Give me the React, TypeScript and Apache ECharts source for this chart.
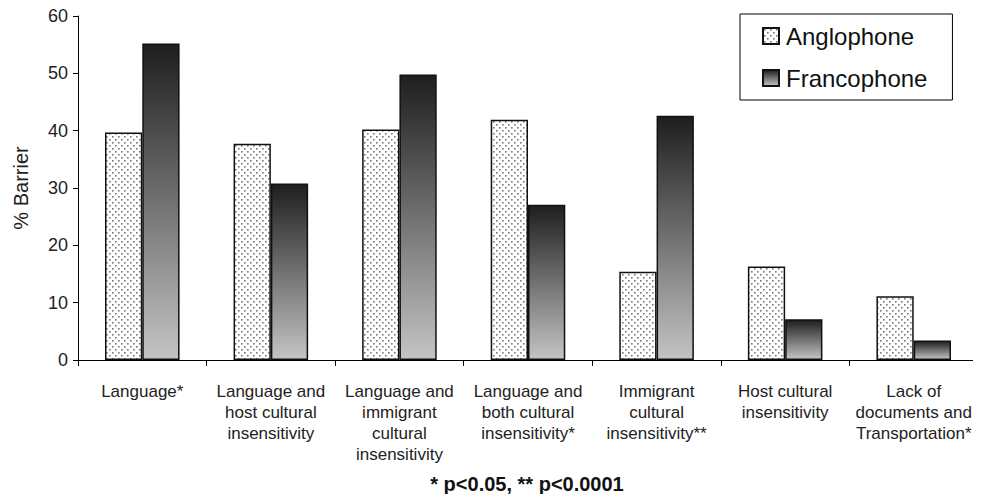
import React, { useEffect, useRef } from "react";
import * as echarts from "echarts";

const categories = [
  "Language*",
  "Language and\nhost cultural\ninsensitivity",
  "Language and\nimmigrant\ncultural\ninsensitivity",
  "Language and\nboth cultural\ninsensitivity*",
  "Immigrant\ncultural\ninsensitivity**",
  "Host cultural\ninsensitivity",
  "Lack of\ndocuments and\nTransportation*",
];
const anglophone = [39.7, 37.7, 40.2, 41.9, 15.4, 16.3, 11.1];
const francophone = [55.2, 30.8, 49.8, 27.1, 42.6, 7.1, 3.4];
const yTicks = [0, 10, 20, 30, 40, 50, 60];
const footnote = "* p<0.05, ** p<0.0001";

function makeDotPattern(): HTMLCanvasElement {
  const c = document.createElement("canvas");
  c.width = 6;
  c.height = 6;
  const ctx = c.getContext("2d")!;
  ctx.fillStyle = "#ffffff";
  ctx.fillRect(0, 0, 6, 6);
  ctx.fillStyle = "#7a7a7a";
  ctx.fillRect(1, 1, 1.6, 1.6);
  ctx.fillRect(4, 4, 1.6, 1.6);
  return c;
}

export default function App() {
  const ref = useRef<HTMLDivElement>(null);
  useEffect(() => {
    if (!ref.current) return;
    const chart = echarts.init(ref.current, undefined, { renderer: "svg" });
    const font = "'Liberation Sans', Arial, sans-serif";
    const dots = { image: makeDotPattern(), repeat: "repeat" };
    const grad = new echarts.graphic.LinearGradient(0, 0, 0, 1, [
      { offset: 0, color: "#1e1e1e" },
      { offset: 1, color: "#c4c4c4" },
    ]);
    chart.setOption({
      animation: false,
      backgroundColor: "#ffffff",
      textStyle: { fontFamily: font },
      grid: { left: 78, right: 3, top: 16, bottom: 142 },
      legend: {
        left: 740,
        top: 14,
        orient: "vertical",
        icon: "rect",
        padding: [10, 25, 10, 22],
        itemGap: 18,
        itemWidth: 16,
        itemHeight: 16,
        borderColor: "#000",
        borderWidth: 1,
        textStyle: { fontSize: 24, color: "#111", fontFamily: font, padding: [0, 0, 0, 2] },
        data: ["Anglophone", "Francophone"],
      },
      xAxis: {
        type: "category",
        data: categories,
        axisLine: { lineStyle: { color: "#000", width: 1 } },
        axisTick: { show: true, length: 6, lineStyle: { color: "#000" } },
        axisLabel: {
          interval: 0,
          fontSize: 17,
          lineHeight: 21,
          color: "#222",
          margin: 21,
          fontFamily: font,
        },
      },
      yAxis: {
        type: "value",
        min: yTicks[0],
        max: yTicks[yTicks.length - 1],
        interval: 10,
        name: "% Barrier",
        nameLocation: "middle",
        nameGap: 47,
        nameTextStyle: { fontSize: 20, color: "#222", fontFamily: font },
        axisLine: { show: true, lineStyle: { color: "#000", width: 1 } },
        axisTick: { show: true, length: 5, lineStyle: { color: "#000" } },
        splitLine: { show: false },
        axisLabel: { fontSize: 18, color: "#222", margin: 10, fontFamily: font },
      },
      series: [
        {
          name: "Anglophone",
          type: "bar",
          data: anglophone,
          barGap: "0%",
          barCategoryGap: "42%",
          itemStyle: { color: dots, borderColor: "#111", borderWidth: 1.5 },
        },
        {
          name: "Francophone",
          type: "bar",
          data: francophone,
          itemStyle: { color: grad, borderColor: "#111", borderWidth: 1.5 },
        },
      ],
      graphic: [
        {
          type: "text",
          x: 527,
          y: 484,
          style: {
            text: footnote,
            fontSize: 20,
            fontWeight: "bold",
            fill: "#111",
            fontFamily: font,
            align: "center",
            verticalAlign: "middle",
          },
        },
      ],
    });
    return () => chart.dispose();
  }, []);
  return <div ref={ref} style={{ width: 981, height: 502, margin: -8 }} />;
}
